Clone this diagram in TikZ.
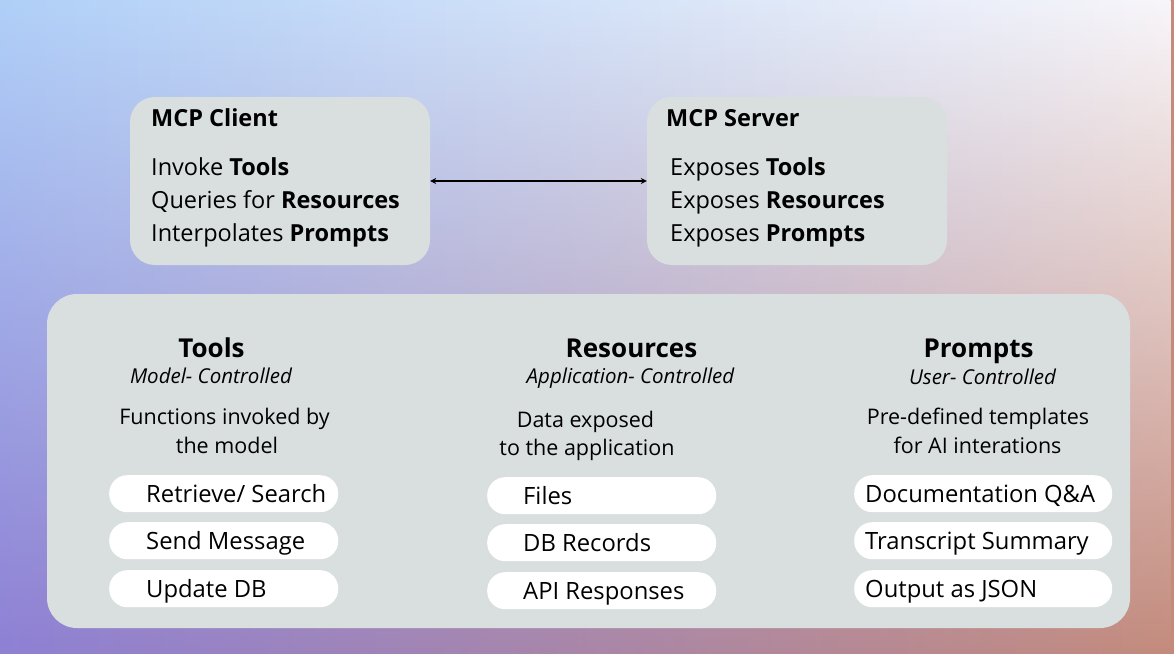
\documentclass[tikz,border=0pt]{standalone}
\usepackage{fontspec}
\setmainfont{Open Sans}
\usetikzlibrary{arrows.meta, positioning, fadings}
\definecolor{boxgray}{HTML}{D9DFDE}
\definecolor{bgtl}{HTML}{B0D0F8}
\definecolor{bgtr}{HTML}{F8F6FA}
\definecolor{bgbl}{HTML}{8E80D4}
\definecolor{bgbr}{HTML}{C48B7C}
\tikzset{
    block/.style={rectangle, rounded corners=25pt, fill=boxgray, minimum width=300pt, minimum height=168pt},
    panel/.style={rectangle, rounded corners=30pt, fill=boxgray, minimum width=1083pt, minimum height=334pt},
    pill/.style={rectangle, rounded corners=18pt, fill=white, minimum height=37pt, anchor=north west},
    titlestyle/.style={font=\bfseries\fontsize{23.5}{27}\selectfont, anchor=base west, inner sep=0pt},
    linestyle/.style={font=\fontsize{23.5}{27}\selectfont, anchor=base west, inner sep=0pt},
    heading/.style={font=\bfseries\fontsize{26}{30}\selectfont, anchor=base, inner sep=0pt},
    subheading/.style={font=\itshape\fontsize{20.5}{24}\selectfont, anchor=base, inner sep=0pt},
    desc/.style={font=\fontsize{21.5}{25}\selectfont, anchor=base, inner sep=0pt},
    item/.style={font=\fontsize{23.8}{27}\selectfont, anchor=base west, inner sep=0pt},
    arrow/.style={{Stealth[length=6pt,width=6pt]}-{Stealth[length=6pt,width=6pt]}, line width=1.2pt},
}

\begin{document}
\begin{tikzpicture}[x=1pt, y=-1pt]

    % Background
    \useasboundingbox (0,0) rectangle (1174,653);
    \shade[left color=bgbl, right color=bgbr] (0,0) rectangle (1174,653);
    \shade[left color=bgtl, right color=bgtr, path fading=south] (0,0) rectangle (1174,653);

    % Top boxes
    \node[block] (client) at (280,181) {};
    \node[block] (server) at (797,181) {};
    \node[titlestyle] (clienttitle) at (151,126) {MCP Client};
    \node[linestyle] (clientA) at (151,175) {Invoke \textbf{Tools}};
    \node[linestyle] (clientB) at (151,208) {Queries for \textbf{Resources}};
    \node[linestyle] (clientC) at (151,241) {Interpolates \textbf{Prompts}};
    \node[titlestyle] (servertitle) at (666,126) {MCP Server};
    \node[linestyle] (serverA) at (670,175) {Exposes \textbf{Tools}};
    \node[linestyle] (serverB) at (670,208) {Exposes \textbf{Resources}};
    \node[linestyle] (serverC) at (670,241) {Exposes \textbf{Prompts}};

    % Arrow
    \draw[arrow] (client) -- (server);

    % Bottom panel
    \node[panel] (panel) at (588.5,461) {};

    % Tools column
    \node[heading] (tools) at (211.5,357) {Tools};
    \node[subheading] (toolsctrl) at (211,383) {Model- Controlled};
    \node[desc] (toolsdescA) at (224.5,424) {Functions invoked by};
    \node[desc] (toolsdescB) at (227,453) {the model};
    \node[pill, minimum width=229pt] (toolA) at (109,475) {};
    \node[pill, minimum width=229pt] (toolB) at (109,522) {};
    \node[pill, minimum width=229pt] (toolC) at (109,570) {};
    \node[item] at ([xshift=37pt, yshift=-8.5pt]toolA.west) {Retrieve/ Search};
    \node[item] at ([xshift=37pt, yshift=-8.5pt]toolB.west) {Send Message};
    \node[item] at ([xshift=37pt, yshift=-8.5pt]toolC.west) {Update DB};

    % Resources column
    \node[heading] (resources) at (631.5,357) {Resources};
    \node[subheading] (resctrl) at (630.5,383) {Application- Controlled};
    \node[desc] (resdescA) at (585.5,427) {Data exposed};
    \node[desc] (resdescB) at (587,455) {to the application};
    \node[pill, minimum width=229pt] (resA) at (487,477) {};
    \node[pill, minimum width=229pt] (resB) at (487,524) {};
    \node[pill, minimum width=229pt] (resC) at (487,572) {};
    \node[item] at ([xshift=36pt, yshift=-8.5pt]resA.west) {Files};
    \node[item] at ([xshift=36pt, yshift=-8.5pt]resB.west) {DB Records};
    \node[item] at ([xshift=36pt, yshift=-8.5pt]resC.west) {API Responses};

    % Prompts column
    \node[heading] (prompts) at (978.5,357) {Prompts};
    \node[subheading] (promptsctrl) at (982.5,384) {User- Controlled};
    \node[desc] (promptsdescA) at (978,424) {Pre-defined templates};
    \node[desc] (promptsdescB) at (977.5,453) {for AI interations};
    \node[pill, minimum width=258pt] (promptA) at (854,475) {};
    \node[pill, minimum width=258pt] (promptB) at (854,522) {};
    \node[pill, minimum width=258pt] (promptC) at (854,570) {};
    \node[item] at ([xshift=11pt, yshift=-8.5pt]promptA.west) {Documentation Q\&A};
    \node[item] at ([xshift=11pt, yshift=-8.5pt]promptB.west) {Transcript Summary};
    \node[item] at ([xshift=11pt, yshift=-8.5pt]promptC.west) {Output as JSON};

\end{tikzpicture}
\end{document}
